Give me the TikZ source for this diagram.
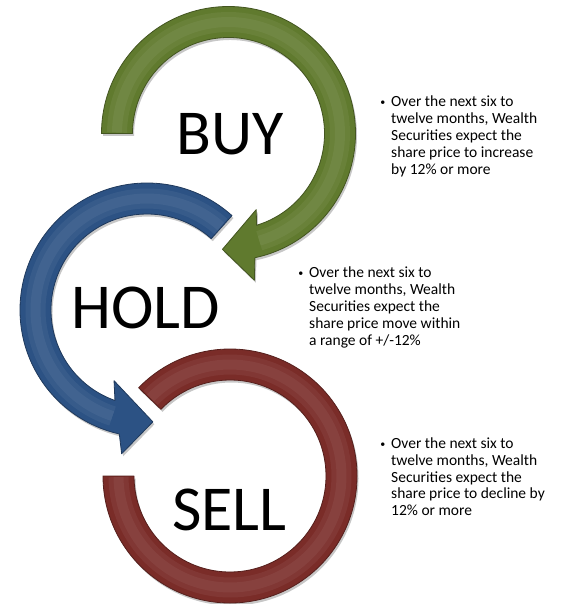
\documentclass[tikz,border=0pt]{standalone}
\usepackage{fontspec}
\setmainfont{Carlito}
\usetikzlibrary{shadows}

\definecolor{buygreen}{RGB}{96,122,46}
\definecolor{holdblue}{RGB}{44,82,132}
\definecolor{sellred}{RGB}{122,44,40}

\tikzset{
  band/.style={fill=#1, draw=#1!70!black, line width=0.8pt, line join=round,
    drop shadow={shadow xshift=1.5pt, shadow yshift=-2.5pt, opacity=.22, fill=black}},
  gloss/.style={draw=#1!60!white, line width=20pt, opacity=.14,
    postaction={draw=#1!60!white, line width=10pt, opacity=.14}},
  word/.style={font=\fontsize{64}{70}\selectfont, anchor=base, inner sep=0pt},
  note/.style={font=\fontsize{15.5}{16.8}\selectfont, anchor=north west, inner sep=0pt},
}
\newcommand{\bulletbox}{\makebox[12.5pt][l]{\hspace{1.6pt}\raisebox{1.4pt}{\fontsize{10}{10}\selectfont\textbullet}}}

\begin{document}
\begin{tikzpicture}[x=1pt, y=1pt]
  \useasboundingbox (0,0) rectangle (562,-604);

  % centres of the three rings
  \coordinate (sellc) at (230,-476);
  \coordinate (holdc) at (147,-310);
  \coordinate (buyc)  at (228.5,-133.5);

  % sell ring, no head
  \begin{scope}[shift={(sellc)}]
    \path[band=sellred] (180:127) arc[start angle=180, end angle=496, radius=127]
      -- (496:96) arc[start angle=496, end angle=180, radius=96] -- cycle;
    \draw[gloss=sellred] (180.5:111.5) arc[start angle=180.5, end angle=495.5, radius=111.5];
  \end{scope}

  % hold ring, head at the bottom
  \begin{scope}[shift={(holdc)}]
    \path[band=holdblue] (48:127) arc[start angle=48, end angle=257.4, radius=127]
      -- (260:146) -- (273:112) -- (245:78) -- (250.5:96)
      arc[start angle=250.5, end angle=48, radius=96] -- cycle;
    \draw[gloss=holdblue] (48.5:111.5) arc[start angle=48.5, end angle=252, radius=111.5];
  \end{scope}

  % buy ring, head at the bottom
  \begin{scope}[shift={(buyc)}]
    \path[band=buygreen] (180:127) arc[start angle=180, end angle=-78, radius=127]
      -- (-80:149) -- (-93:116) -- (-70:81) -- (-73:96)
      arc[start angle=-73, end angle=180, radius=96] -- cycle;
    \draw[gloss=buygreen] (179.5:111.5) arc[start angle=179.5, end angle=-74, radius=111.5];
  \end{scope}

  \node[word] (buy)  at (230,-155)   {BUY};
  \node[word] (hold) at (146,-328)   {HOLD};
  \node[word] (sell) at (229.5,-530) {SELL};

  \node[note] (buynote) at (378.5,-95) {\bulletbox\begin{tabular}[t]{@{}l@{}}
    Over the next six to\\ twelve months, Wealth\\ Securities expect the\\
    share price to increase\\ by 12\% or more\end{tabular}};
  \node[note] (holdnote) at (296.5,-266) {\bulletbox\begin{tabular}[t]{@{}l@{}}
    Over the next six to\\ twelve months, Wealth\\ Securities expect the\\
    share price move within\\ a range of +/-12\%\end{tabular}};
  \node[note] (sellnote) at (378.5,-436.5) {\bulletbox\begin{tabular}[t]{@{}l@{}}
    Over the next six to\\ twelve months, Wealth\\ Securities expect the\\
    share price to decline by\\ 12\% or more\end{tabular}};
\end{tikzpicture}
\end{document}
